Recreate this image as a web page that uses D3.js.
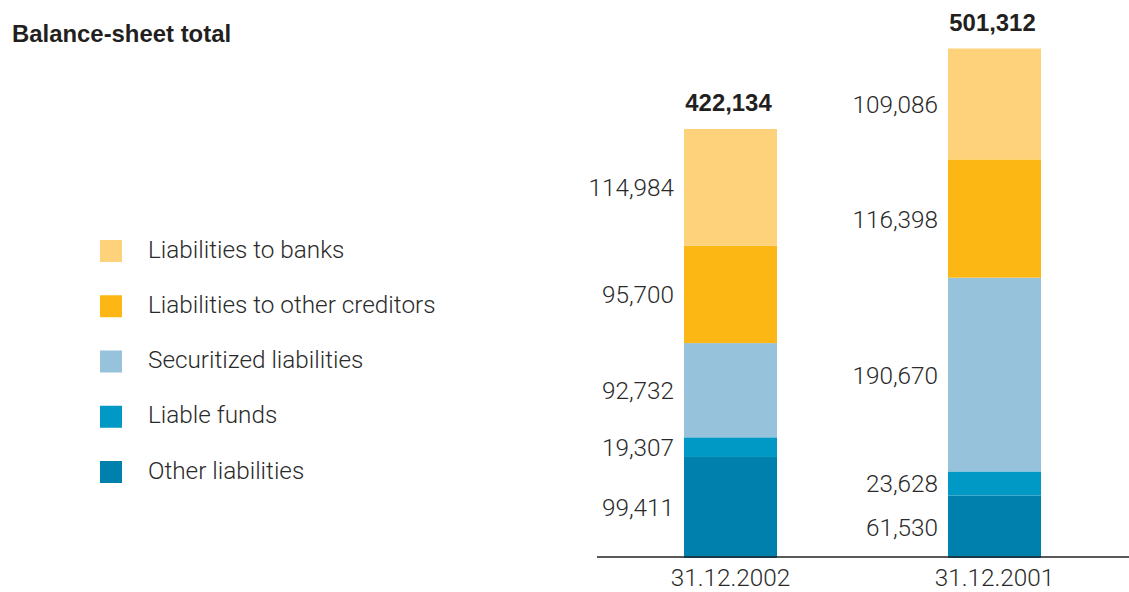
<!DOCTYPE html>
<html>
<head>
<meta charset="utf-8">
<script src="https://cdn.jsdelivr.net/npm/d3@7"></script>
<style>
  html, body { margin: 0; padding: 0; background: #fff; }
  svg { display: block; }
  .lbl { font-family: Roboto, "Liberation Sans", Arial, sans-serif; font-weight: 300; font-size: 24.3px; fill: #2a2a2a; }
  .bold { font-family: "Liberation Sans", Arial, sans-serif; font-size: 23.9px; font-weight: bold; fill: #231f20; }
</style>
</head>
<body>
<svg id="chart" width="1129" height="592"></svg>
<script>
// Balance-sheet total, liabilities side (in € millions)
const dates = ["31.12.2002", "31.12.2001"];
const seriesNames = [
  "Other liabilities",
  "Liable funds",
  "Securitized liabilities",
  "Liabilities to other creditors",
  "Liabilities to banks"
];
const otherLiabilities = [99411, 61530];
const liableFunds = [19307, 23628];
const securitizedLiabilities = [92732, 190670];
const liabilitiesToOtherCreditors = [95700, 116398];
const liabilitiesToBanks = [114984, 109086];
const totals = [422134, 501312];
const colors = ["#0080ac", "#0099c5", "#96c2dc", "#fdb714", "#fed17b"];
const legendOrder = [4, 3, 2, 1, 0];

const seriesValues = [otherLiabilities, liableFunds, securitizedLiabilities,
                      liabilitiesToOtherCreditors, liabilitiesToBanks];

const rows = dates.map((d, i) => {
  const r = { date: d };
  seriesNames.forEach((s, k) => { r[s] = seriesValues[k][i]; });
  return r;
});

const svg = d3.select("#chart");
const fmt = d3.format(",");

const x = d3.scaleBand().domain(dates).range([684, 1041]).paddingInner(0.6477).paddingOuter(0);
const y = d3.scaleLinear().domain([0, 501312]).range([558, 48.5]);

const stack = d3.stack().keys(seriesNames);
const layers = stack(rows);

// Title
svg.append("text").attr("class", "bold").attr("x", 12).attr("y", 42).text("Balance-sheet total");

// Stacked bars
const g = svg.append("g");
layers.forEach((layer, k) => {
  g.selectAll(null).data(layer).enter().append("rect")
    .attr("x", d => x(d.data.date))
    .attr("width", x.bandwidth())
    .attr("y", d => y(d[1]))
    .attr("height", d => y(d[0]) - y(d[1]))
    .attr("fill", colors[k]);

  // segment value labels, left of each bar
  g.selectAll(null).data(layer).enter().append("text")
    .attr("class", "lbl")
    .attr("text-anchor", "end")
    .attr("x", d => x(d.data.date) - 10)
    .attr("y", d => (y(d[0]) + y(d[1])) / 2 + 9)
    .text(d => fmt(d[1] - d[0]));
});

// Totals above bars
svg.selectAll(null).data(dates).enter().append("text")
  .attr("class", "bold")
  .attr("text-anchor", "middle")
  .attr("x", (d) => x(d) + x.bandwidth() / 2 - 2)
  .attr("y", (d, i) => y(totals[i]) - 18)
  .text((d, i) => fmt(totals[i]));

// Baseline
svg.append("line")
  .attr("x1", 597).attr("x2", 1129)
  .attr("y1", 557).attr("y2", 557)
  .attr("stroke", "#222").attr("stroke-width", 1.5);

// Category axis labels
const axis = svg.append("g").attr("transform", "translate(0,558)")
  .call(d3.axisBottom(x).tickSize(0).tickPadding(0));
axis.select(".domain").remove();
axis.selectAll("text")
  .attr("class", "lbl")
  .attr("dy", null)
  .attr("y", 28)
  .attr("font-size", null)
  .attr("font-family", null)
  .style("fill", "#2a2a2a");

// Legend
const lg = svg.append("g");
legendOrder.forEach((k, i) => {
  const top = 240 + i * 55.25;
  lg.append("rect").attr("x", 100).attr("y", top).attr("width", 22).attr("height", 22).attr("fill", colors[k]);
  lg.append("text").attr("class", "lbl").attr("x", 148).attr("y", top + 17.5).text(seriesNames[k]);
});
</script>
</body>
</html>
